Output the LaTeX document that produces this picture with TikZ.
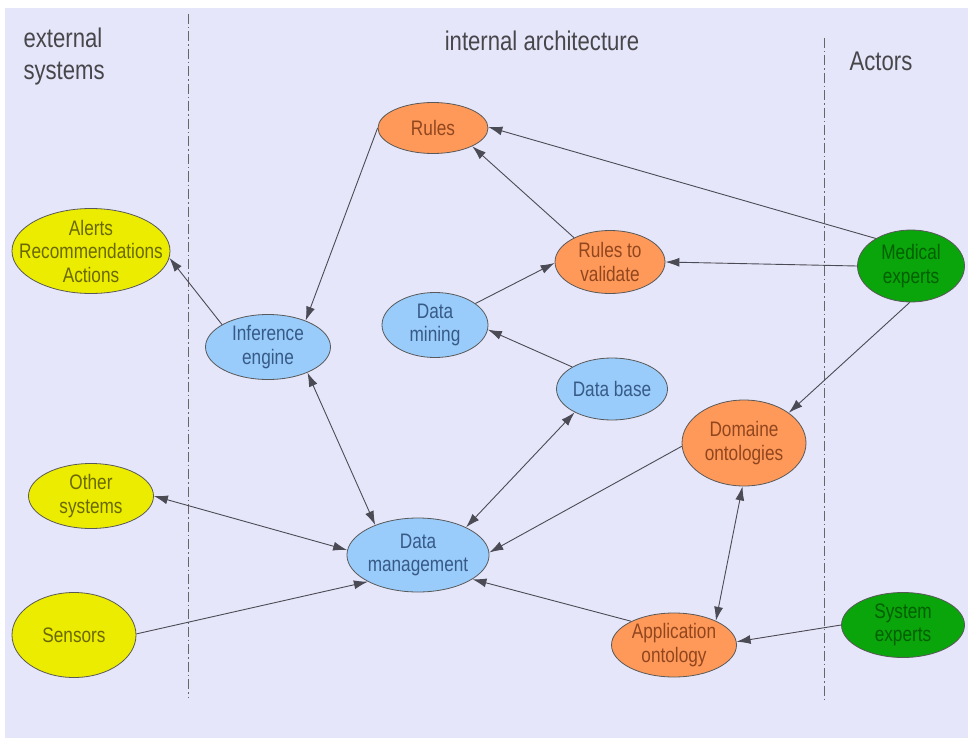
\documentclass[tikz,border=0pt]{standalone}
\usepackage{fontspec}
\setmainfont{Liberation Sans}[FakeStretch=0.82]
\usetikzlibrary{shapes.geometric,arrows.meta}

\definecolor{bglav}{RGB}{230,230,250}
\definecolor{ylwfill}{RGB}{236,236,0}
\definecolor{ylwtext}{RGB}{105,105,0}
\definecolor{bluefill}{RGB}{153,204,250}
\definecolor{bluetext}{RGB}{55,90,135}
\definecolor{orgfill}{RGB}{255,153,90}
\definecolor{orgtext}{RGB}{145,70,30}
\definecolor{grnfill}{RGB}{10,165,10}
\definecolor{grntext}{RGB}{0,95,0}
\definecolor{linegray}{RGB}{75,75,85}
\definecolor{headgray}{RGB}{70,70,75}

\tikzset{
  blob/.style={ellipse, draw=black!65, line width=0.8pt, inner sep=0pt, align=center,
    font=\fontsize{21}{23.5}\selectfont},
  extsys/.style={blob, fill=ylwfill, text=ylwtext},
  intmod/.style={blob, fill=bluefill, text=bluetext},
  knowl/.style={blob, fill=orgfill, text=orgtext},
  actor/.style={blob, fill=grnfill, text=grntext},
  link/.style={draw=linegray, line width=0.9pt, -{Latex[length=14pt,width=9pt]}},
  duallink/.style={link, {Latex[length=14pt,width=9pt]}-{Latex[length=14pt,width=9pt]}},
  divider/.style={draw=black!60, line width=0.8pt, dash pattern=on 10pt off 3pt on 1.5pt off 3pt},
  heading/.style={text=headgray, font=\fontsize{27}{32}\selectfont}
}

\begin{document}
\begin{tikzpicture}[x=1pt,y=1pt,yscale=-1,xscale=1]
\useasboundingbox (0,0) rectangle (968,738);
\fill[white] (0,0) rectangle (968,738);
\fill[bglav] (5,8) rectangle (968,738);
%Dividers
\draw[divider] (188,14) -- (188,698);
\draw[divider] (824,38) -- (824,700);
% Text Node
\node[heading, anchor=west, align=left] (hext) at (20,57) {external\\systems};
\node[heading] (hint) at (542,41) {internal architecture};
\node[heading] (hact) at (881,61) {Actors};
%Shape: Ellipse (external systems)
\node[extsys, inner xsep=-18pt, inner ysep=-6pt, minimum width=158pt, minimum height=85pt] (alerts) at (91,251) {Alerts\\Recommendations\\Actions};
\node[extsys, minimum width=125pt, minimum height=65pt] (othsys) at (91,496) {Other\\systems};
\node[extsys, minimum width=124pt, minimum height=85pt] (sensors) at (74,635) {Sensors};
%Shape: Ellipse (internal architecture)
\node[intmod, minimum width=125pt, minimum height=65pt] (infeng) at (268,347) {Inference\\engine};
\node[intmod, minimum width=106pt, minimum height=65pt] (dmining) at (435,325) {Data\\mining};
\node[intmod, minimum width=108pt, minimum height=62pt] (dbase) at (612,389) {Data base};
\node[intmod, minimum width=141pt, minimum height=74pt] (dmgmt) at (418,555) {Data\\management};
\node[knowl, minimum width=110pt, minimum height=51pt] (rules) at (433,128) {Rules};
\node[knowl, minimum width=110pt, minimum height=63pt] (rvalid) at (610,262) {Rules to\\validate};
\node[knowl, minimum width=124pt, minimum height=86pt] (domont) at (744,443) {Domaine\\ontologies};
\node[knowl, minimum width=125pt, minimum height=64pt] (appont) at (674,645) {Application\\ontology};
%Shape: Ellipse (actors)
\node[actor, minimum width=107pt, minimum height=72pt] (medexp) at (911,266) {Medical\\experts};
\node[actor, minimum width=123pt, minimum height=65pt] (sysexp) at (903,625) {System\\experts};
%Straight Lines
\draw[link] (rules.180) -- (infeng.35);
\draw[link] (infeng.154) -- (alerts.-5);
\draw[duallink] (infeng.-33) -- (dmgmt.145);
\draw[link] (rvalid.146) -- (rules.-25);
\draw[link] (medexp.142) -- (rules.1);
\draw[link] (medexp.180) -- (rvalid.0);
\draw[link] (dmining.28) -- (rvalid.181);
\draw[link] (dbase.151) -- (dmining.-5);
\draw[duallink] (dbase.212) -- (dmgmt.30);
\draw[link] (medexp.268) -- (domont.34);
\draw[link] (domont.183) -- (dmgmt.2);
\draw[duallink] (domont.268) -- (appont.30);
\draw[link] (appont.151) -- (dmgmt.-24);
\draw[link] (sysexp.180) -- (appont.3);
\draw[duallink] (othsys.0) -- (dmgmt.176);
\draw[link] (sensors.1) -- (dmgmt.-152);
\end{tikzpicture}
\end{document}
